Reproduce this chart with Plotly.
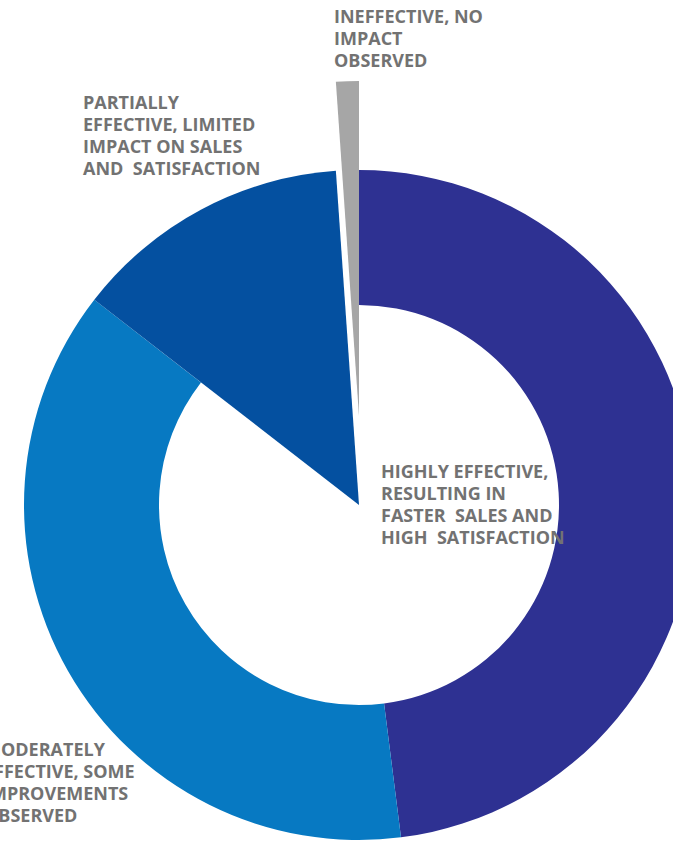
import plotly.graph_objects as go

# Survey results: perceived effectiveness (share of respondents, %)
categories = [
    "Highly effective, resulting in faster sales and high satisfaction",
    "Moderately effective, some improvements observed",
    "Partially effective, limited impact on sales and satisfaction",
    "Ineffective, no impact observed",
]
shares = [48.0, 37.5, 13.4, 1.1]
colors = ["#2E3192", "#0779C2", "#0450A0", "#A6A6A6"]

label_lines = [
    ["HIGHLY EFFECTIVE,", "RESULTING IN", "FASTER\u00a0 SALES AND", "HIGH\u00a0 SATISFACTION"],
    ["MODERATELY", "EFFECTIVE, SOME", "IMPROVEMENTS", "OBSERVED"],
    ["PARTIALLY", "EFFECTIVE, LIMITED", "IMPACT ON SALES", "AND\u00a0 SATISFACTION"],
    ["INEFFECTIVE, NO", "IMPACT", "OBSERVED"],
]

W, H = 718, 842
CX, CY, R = 359, 505, 335       # ring centre and outer radius, px from top-left
HOLE = 200 / 335
GRAY_SHIFT = 89                 # the small slice is pulled straight up

CLEAR = "rgba(0,0,0,0)"


def only(idx):
    return [c if i in idx else CLEAR for i, c in enumerate(colors)]


def ydom(cy):
    return [(H - cy - R) / H, (H - cy + R) / H]


common = dict(
    labels=categories,
    values=shares,
    sort=False,
    direction="clockwise",
    rotation=0,
    textinfo="none",
    hoverinfo="skip",
    showlegend=False,
)

fig = go.Figure()
# outer ring for the two large groups
fig.add_trace(go.Pie(**common, hole=HOLE, domain=dict(x=[0, 1], y=ydom(CY)),
                     marker=dict(colors=only({0, 1}), line=dict(width=0))))
# "partially effective" drawn as a full wedge reaching the centre
fig.add_trace(go.Pie(**common, hole=0, domain=dict(x=[0, 1], y=ydom(CY)),
                     marker=dict(colors=only({2}), line=dict(width=0))))
# "ineffective" wedge, exploded upward
fig.add_trace(go.Pie(**common, hole=0, domain=dict(x=[0, 1], y=ydom(CY - GRAY_SHIFT)),
                     marker=dict(colors=only({3}), line=dict(width=0))))

# label anchor points (left edge, top of first line), px
label_pos = [(379, 457), (-18, 735), (81, 88), (332, 2)]
LINE_PITCH = 22
for lines, (lx, ly) in zip(label_lines, label_pos):
    for k, line in enumerate(lines):
        fig.add_annotation(
            text=line,
            x=lx / W, y=1 - (ly + k * LINE_PITCH) / H, xref="paper", yref="paper",
            xanchor="left", yanchor="top", align="left", showarrow=False,
            font=dict(family="Open Sans", size=18, color="#727272", weight="bold"),
        )

fig.update_layout(
    width=W, height=H,
    margin=dict(l=0, r=0, t=0, b=0),
    paper_bgcolor="white", plot_bgcolor="white",
)

fig.write_html(
    "out.html",
    config={"displayModeBar": False, "staticPlot": True},
    post_script="document.body.style.margin='0';document.body.style.overflow='hidden';"
                "document.documentElement.style.overflow='hidden';",
)
